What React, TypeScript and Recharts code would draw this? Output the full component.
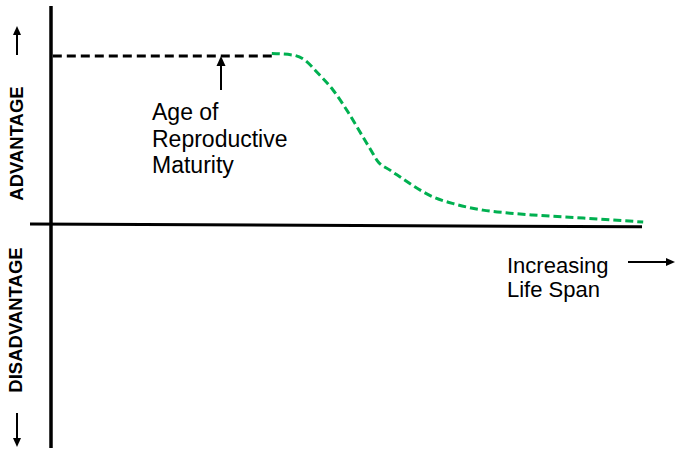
import { LineChart, Line, XAxis, YAxis, ReferenceLine } from "recharts";

// life span (arbitrary units, 0 = vertical axis) vs advantage (arbitrary units)
const maturityLife = [0.3, 36.8];
const maturityAdv = [100, 100];

const lateLife = [36.8, 40.3, 42.3, 44.3, 47, 49.5, 52, 53.5, 54.3, 56.5, 58.2, 60.7, 63.7, 67.3, 72, 76.5, 80.3, 88.7, 98.7];
const lateAdv = [101.5, 100.6, 97.6, 90.5, 79.8, 66.7, 51.8, 42.9, 38.1, 32.1, 28, 22, 16.1, 11.9, 8.3, 6.5, 5.4, 3.6, 1.2];

const maturityData = maturityLife.map((x, i) => ({ x, v: maturityAdv[i] }));
const lateData = lateLife.map((x, i) => ({ x, v: lateAdv[i] }));

const FONT = "'Liberation Sans', Arial, sans-serif";

function Annotations() {
  return (
    <svg
      width={675}
      height={450}
      style={{ position: "absolute", left: 0, top: 0, pointerEvents: "none" }}
      fontFamily={FONT}
    >
      {/* up arrow */}
      <line x1={17} y1={55} x2={17} y2={33} stroke="#000" strokeWidth={2} />
      <polygon points="17,26 13,35 21,35" fill="#000" />
      <text x={16.5} y={143.5} transform="rotate(-90 16.5 143.5)" textAnchor="middle" dominantBaseline="central" fontSize={18.5} fontWeight="bold">
        ADVANTAGE
      </text>
      <text x={15.5} y={320} transform="rotate(-90 15.5 320)" textAnchor="middle" dominantBaseline="central" fontSize={18.5} fontWeight="bold">
        DISADVANTAGE
      </text>
      {/* down arrow */}
      <line x1={17} y1={413} x2={17} y2={440} stroke="#000" strokeWidth={2} />
      <polygon points="17,447 13,438 21,438" fill="#000" />

      {/* maturity pointer */}
      <line x1={221} y1={90} x2={221} y2={64} stroke="#000" strokeWidth={2} />
      <polygon points="221,56 216.5,66 225.5,66" fill="#000" />
      <text fontSize={23} fill="#000">
        <tspan x={152} y={120}>Age of</tspan>
        <tspan x={152} y={147}>Reproductive</tspan>
        <tspan x={152} y={173}>Maturity</tspan>
      </text>

      <text fontSize={22} fill="#000">
        <tspan x={507} y={273}>Increasing</tspan>
        <tspan x={507} y={297}>Life Span</tspan>
      </text>
      <line x1={628} y1={262} x2={667} y2={262} stroke="#000" strokeWidth={2} />
      <polygon points="675,262 666,258 666,266" fill="#000" />
    </svg>
  );
}

export default function App() {
  return (
    <div style={{ position: "absolute", left: 0, top: 0, width: 675, height: 450, background: "#fff" }}>
      <LineChart width={675} height={450} margin={{ top: 6, right: 30, bottom: 2, left: 30 }}>
        <XAxis type="number" dataKey="x" domain={[-3.5, 99]} hide allowDataOverflow />
        <YAxis type="number" domain={[-133.3, 129.8]} hide allowDataOverflow />
        <ReferenceLine x={0} stroke="#000" strokeWidth={3.5} />
        <ReferenceLine
          segment={[
            { x: -3.5, y: 0 },
            { x: 98.5, y: -1.6 },
          ]}
          stroke="#000"
          strokeWidth={3}
        />
        <Line
          data={maturityData}
          dataKey="v"
          type="linear"
          stroke="#000"
          strokeWidth={3}
          strokeDasharray="9 5"
          dot={false}
          activeDot={false}
          isAnimationActive={false}
        />
        <Line
          data={lateData}
          dataKey="v"
          type="monotone"
          stroke="#00b050"
          strokeWidth={3}
          strokeDasharray="8 4"
          dot={false}
          activeDot={false}
          isAnimationActive={false}
        />
      </LineChart>
      <Annotations />
    </div>
  );
}
